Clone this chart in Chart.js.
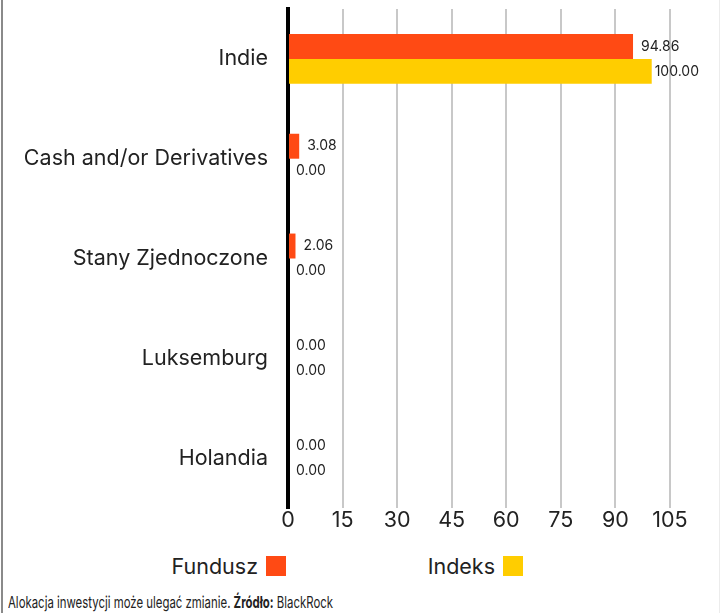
<!DOCTYPE html>
<html>
<head>
<meta charset="utf-8">
<script src="https://cdn.jsdelivr.net/npm/chart.js@4.4.1/dist/chart.umd.min.js"></script>
<style>
  html, body { margin: 0; padding: 0; background: #fff; }
  body { width: 722px; height: 613px; position: relative; overflow: hidden; font-family: Inter, "Open Sans", sans-serif; color: #222; }
  #frame { position: absolute; left: 1px; top: 0; width: 719px; height: 613px; border-left: 2px solid #8a8a8a; border-right: 1px solid #ececec; box-sizing: border-box; }
  #wrap { position: absolute; left: 0; top: 0; width: 722px; height: 545px; }
  .leg { position: absolute; top: 555px; height: 22px; display: flex; align-items: center; font-size: 21.5px; color: #222; }
  .leg span.box { display: inline-block; width: 20px; height: 20px; margin-left: 8px; }
  #footer { position: absolute; left: 8px; top: 591px; font-size: 16.5px; line-height: 22px; color: #222; white-space: nowrap; font-family: Inter, "Open Sans", sans-serif; transform-origin: 0 50%; }
</style>
</head>
<body>
<div id="frame"></div>
<div id="wrap"><canvas id="c" width="722" height="545"></canvas></div>
<div class="leg" id="leg1" style="right:436px;"><span>Fundusz</span><span class="box" id="b1"></span></div>
<div class="leg" id="leg2" style="right:199px;"><span>Indeks</span><span class="box" id="b2"></span></div>
<div id="footer">Alokacja inwestycji może ulegać zmianie. <b>Źródło:</b> BlackRock</div>
<script>
const categories = ["Indie", "Cash and/or Derivatives", "Stany Zjednoczone", "Luksemburg", "Holandia"];
const fundValues = [94.86, 3.08, 2.06, 0.00, 0.00];
const indexValues = [100.00, 0.00, 0.00, 0.00, 0.00];
const seriesNames = ["Fundusz", "Indeks"];
const xTickValues = [0, 15, 30, 45, 60, 75, 90, 105];

const ORANGE = "#FF4A14";
const YELLOW = "#FFCD00";
document.getElementById("b1").style.background = ORANGE;
document.getElementById("b2").style.background = YELLOW;

// condense footer to the reference's width
const footer = document.getElementById("footer");
const fw = footer.getBoundingClientRect().width;
footer.style.transform = "scaleX(" + (325 / fw) + ")";

const valueLabels = {
  id: "valueLabels",
  afterDatasetsDraw(chart) {
    const ctx = chart.ctx;
    const area = chart.chartArea;
    ctx.save();
    ctx.font = "14px Inter, 'Open Sans', sans-serif";
    ctx.fillStyle = "#222";
    ctx.textBaseline = "middle";
    ctx.textAlign = "left";
    chart.data.datasets.forEach((ds, i) => {
      const meta = chart.getDatasetMeta(i);
      meta.data.forEach((el, j) => {
        const txt = Number(ds.data[j]).toFixed(2);
        const w = ctx.measureText(txt).width;
        let x = el.x + 8;
        if (x + w > area.right) x = area.right - w;
        ctx.fillText(txt, x, el.y);
      });
    });
    ctx.restore();
  }
};

new Chart(document.getElementById("c"), {
  type: "bar",
  data: {
    labels: categories,
    datasets: [
      { label: seriesNames[0], data: fundValues, backgroundColor: ORANGE, categoryPercentage: 0.5, barPercentage: 1.0 },
      { label: seriesNames[1], data: indexValues, backgroundColor: YELLOW, categoryPercentage: 0.5, barPercentage: 1.0 }
    ]
  },
  options: {
    indexAxis: "y",
    responsive: false,
    animation: false,
    layout: { padding: { top: 9, right: 23, left: 0, bottom: 0 } },
    plugins: { legend: { display: false }, tooltip: { enabled: false } },
    scales: {
      x: {
        min: 0, max: 113,
        afterBuildTicks(scale) { scale.ticks = xTickValues.map(v => ({ value: v })); },
        grid: { color: "#c8c8c8", lineWidth: 2, drawTicks: false },
        border: { display: false },
        ticks: { color: "#222", font: { size: 21.5, family: "Inter, 'Open Sans', sans-serif" }, padding: 0, maxRotation: 0 },
        afterFit(scale) { scale.height = 37; scale.paddingLeft = 0; scale.paddingRight = 0; }
      },
      y: {
        grid: { display: false, drawTicks: false },
        border: { display: true, color: "#000", width: 4 },
        ticks: { color: "#222", font: { size: 21.5, family: "Inter, 'Open Sans', sans-serif" }, padding: 20 },
        afterFit(scale) { scale.width = 288; scale.paddingTop = 0; scale.paddingBottom = 0; }
      }
    }
  },
  plugins: [valueLabels]
});
</script>
</body>
</html>
